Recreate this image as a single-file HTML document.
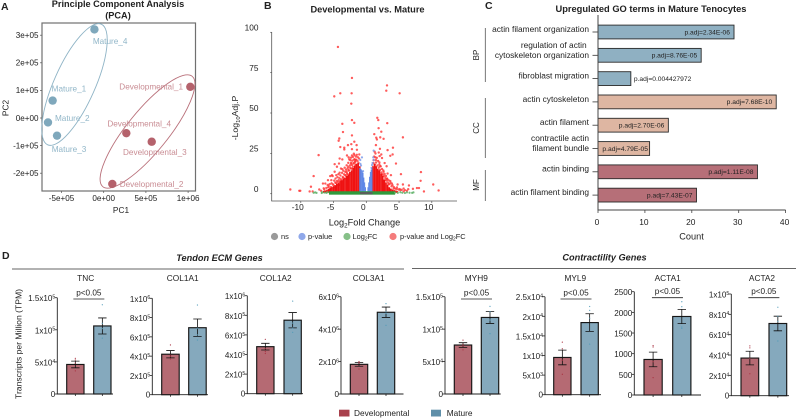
<!DOCTYPE html>
<html lang="en">
<head>
<meta charset="utf-8">
<title>Tenocyte transcriptomics figure</title>
<style>
html,body{margin:0;padding:0;background:#fff;width:797px;height:418px;overflow:hidden}
svg{display:block;font-family:"Liberation Sans",sans-serif;filter:blur(0.25px)}
text{fill:#222}
</style>
</head>
<body>
<svg id="fig" width="797" height="418" viewBox="0 0 797 418" xmlns="http://www.w3.org/2000/svg">
  <!-- panel letters -->
  <text x="1" y="10" font-size="10.5" font-weight="bold">A</text>
  <text x="264" y="9" font-size="10.5" font-weight="bold">B</text>
  <text x="485" y="9" font-size="10.5" font-weight="bold">C</text>
  <text x="2" y="259" font-size="10.5" font-weight="bold">D</text>

  <!-- Panel A static -->
  <text x="118" y="7" font-size="9.2" font-weight="bold" text-anchor="middle">Principle Component Analysis</text>
  <text x="118" y="18.5" font-size="9.2" font-weight="bold" text-anchor="middle">(PCA)</text>
  <rect x="42" y="23" width="153.5" height="168" fill="none" stroke="#707070" stroke-width="1.2"/>
  <text x="121" y="213" font-size="8.3" text-anchor="middle">PC1</text>
  <text transform="translate(8.5,108) rotate(-90)" font-size="8.3" text-anchor="middle">PC2</text>
  <g id="pca"></g>

  <!-- Panel B static -->
  <text x="367.5" y="12.5" font-size="9.25" font-weight="bold" text-anchor="middle">Developmental vs. Mature</text>
  <g id="volcano"></g>
  <text transform="translate(238,118) rotate(-90)" font-size="8.7" text-anchor="middle">-Log<tspan font-size="5.8" dy="2">10</tspan><tspan dy="-2">Adj.P</tspan></text>
  <text x="364.5" y="225.5" font-size="9.2" text-anchor="middle">Log<tspan font-size="6.2" dy="2">2</tspan><tspan dy="-2">Fold Change</tspan></text>
  <g font-size="7.4">
    <circle cx="274.5" cy="236.5" r="3.6" fill="#9a9a9a"/>
    <text x="281" y="239" fill="#444">ns</text>
    <circle cx="302" cy="236.5" r="3.6" fill="#8fa8ea"/>
    <text x="308" y="239" fill="#444">p-value</text>
    <circle cx="347" cy="236.5" r="3.6" fill="#86c088"/>
    <text x="352.5" y="239" fill="#444">Log<tspan font-size="5" dy="1.5">2</tspan><tspan dy="-1.5">FC</tspan></text>
    <circle cx="393" cy="236.5" r="3.6" fill="#f47c7c"/>
    <text x="400" y="239" fill="#444">p-value and Log<tspan font-size="5" dy="1.5">2</tspan><tspan dy="-1.5">FC</tspan></text>
  </g>

  <!-- Panel C static -->
  <text x="651" y="12" font-size="9.3" font-weight="bold" text-anchor="middle">Upregulated GO terms in Mature Tenocytes</text>
  <g id="go"></g>
  <line x1="485.3" x2="485.3" y1="28" y2="82" stroke="#555" stroke-width="0.8"/>
  <line x1="485.3" x2="485.3" y1="98" y2="158" stroke="#555" stroke-width="0.8"/>
  <line x1="485.3" x2="485.3" y1="170" y2="201" stroke="#555" stroke-width="0.8"/>
  <text transform="translate(479,55) rotate(-90)" font-size="8" text-anchor="middle">BP</text>
  <text transform="translate(479,128) rotate(-90)" font-size="8" text-anchor="middle">CC</text>
  <text transform="translate(479,185) rotate(-90)" font-size="8" text-anchor="middle">MF</text>
  <text x="691.5" y="239.5" font-size="9.2" text-anchor="middle">Count</text>

  <!-- Panel D static -->
  <line x1="12" x2="404" y1="269" y2="269" stroke="#666" stroke-width="0.9"/>
  <line x1="412" x2="796" y1="268.5" y2="268.5" stroke="#666" stroke-width="0.9"/>
  <text x="219.5" y="261" font-size="9.2" font-weight="bold" font-style="italic" text-anchor="middle">Tendon ECM Genes</text>
  <text x="604.5" y="260.5" font-size="9.2" font-weight="bold" font-style="italic" text-anchor="middle">Contractility Genes</text>
  <text transform="translate(21.5,344) rotate(-90)" font-size="8.6" text-anchor="middle">Transcripts per Million (TPM)</text>
  <g id="bars"></g>
  <rect x="339" y="409.7" width="10.5" height="6.8" fill="#a8404c"/>
  <text x="354" y="415.8" font-size="8.3">Developmental</text>
  <rect x="431" y="409.7" width="10" height="6.8" fill="#5f8fa9"/>
  <text x="446.7" y="415.8" font-size="8.3">Mature</text>
</svg>

<script>
/* ---------- Panel A: PCA data ---------- */
const pcaNames = ['Mature_1','Mature_2','Mature_3','Mature_4','Developmental_1','Developmental_2','Developmental_3','Developmental_4'];
const pcaPc1 = [-605000,-660000,-553000,-110000,1026000,102000,569000,268000];
const pcaPc2 = [63000,-16000,-64000,321000,113000,-239000,-86000,-55000];
const pcaXTicks = [-500000,0,500000,1000000];
const pcaXTickLabels = ['-5e+05','0e+00','5e+05','1e+06'];
const pcaYTicks = [-200000,-100000,0,100000,200000,300000];
const pcaYTickLabels = ['-2e+05','-1e+05','0e+00','1e+05','2e+05','3e+05'];

/* ---------- Panel B: volcano data (log2 fold change, -log10 adj P) ---------- */
const redLfc = [-4.33,-2.19,3.16,3.05,5.09,-3.97,-2.24,-4.89,-2.29,-2.19,-1.83,-3.66,-3.56,-2.19,-4.12,-4.22,-1.83,-2.8,-2.29,-1.48,-3.97,-3.36,-3.36,-2.19,-1.43,-7.28,-1.07,-2.95,-2.19,-1.83,-2.7,-1.83,-2.44,-4.07,-3.66,-4.83,-4.17,-2.34,-1.63,-4.48,-3.87,-3.66,-2.75,-4.83,-3,-5.24,-5.5,-5.14,-5.85,-5.34,-4.22,-3.77,-6.26,-4.73,-8.04,-6.62,-8.45,-11.6,-10.23,-8.65,-8.19,-7.18,-6.41,-10.08,-5.8,-5.5,-5,-5.75,-4.22,-3.46,-3.21,-2.7,-2.34,-2.04,-1.68,-4.58,-4.07,
 1.68,1.83,3.2,1.88,2.29,1.22,1.52,2.13,5.59,2.64,1.62,1.47,2.08,4.07,3.25,1.27,2.29,3.66,4.02,1.37,2.03,1.12,1.47,2,4.53,2.13,1.37,8.34,3.25,5.29,3.76,8.29,3.66,3.15,4.78,5.59,6.51,10.22,4.68,4.17,5.7,7.12,7.73,8.04,8.8,11.04,6.2,5.19,5.7,3.91,3.4,2.9,2.64,2.39,
 -6.9,-6.5,-6.1,-5.9,-5.6,-5.3,-5.1,-4.9,-4.7,-4.5,-4.4,-4.25,-4.1,-3.95,-3.85,-3.7,-3.6,-3.5,-3.4,-3.3,-3.2,-3.1,-3,-2.95,-2.85,-2.75,-2.65,-2.6,-2.5,-2.45,-2.35,-2.3,-2.2,-2.1,-2.05,-1.95,-1.9,-1.8,-1.7,-1.6,-1.55,-1.45,-1.35,-1.3,-1.2,-1.1,-2.55,-3.15,-3.55,-3.9,-4.3,-4.6,-5,-5.4,-2.85,-2.2,-1.9,-1.65,
 1.1,1.2,1.3,1.4,1.5,1.6,1.7,1.8,1.9,2,2.1,2.2,2.3,2.4,2.5,2.6,2.7,2.8,2.9,3,3.1,3.2,3.3,3.4,3.55,3.7,3.85,4,4.2,4.4,4.6,4.9,5.1,5.4,5.9,6.4,1.9,2.4,2.8,3.1];
const redP = [90.9,71.7,67.1,63.8,62.2,62.2,62.2,60.3,55.8,45.6,43.9,43.3,38.2,36.1,34.2,32.8,32.2,30.1,30.7,30.1,28.9,28.5,27.4,27.6,27.2,23.9,24.3,23.7,23.7,23.9,22.5,21.2,20.8,21.8,21.2,18.3,18.7,18.7,18.1,16.7,15.6,15.2,16.7,13.6,13.6,11.5,10.9,10.9,8.4,8.4,8.4,8,6.3,6.8,10.9,6.3,4.3,2.6,1.8,1.4,1.4,2.6,2.6,1.8,3.9,3.2,3.9,4.7,5.3,9.4,11.5,14.6,15.6,16.7,19.8,11.5,13,
 47,45.6,43.7,40.6,38.4,36.9,34.7,34.9,34.9,34,33.6,30.1,27.8,28.5,27,26,24.3,23.5,24.3,22.5,23.3,20.8,20.8,19.4,18.7,17.1,16.7,13.4,12.5,12.1,11.5,8,7.8,9.4,5.7,5.7,5.1,5.7,3.9,3.2,3.2,3,3.5,3.5,1.4,2,1.8,2.2,1.4,6.3,5.9,8.4,13.6,11.5,
 1.8,3.3,3.6,5.4,5.9,6.4,5.8,8.1,9.4,7.8,10.2,12.1,9.6,11.3,8.9,12.9,10.4,14.2,12,16.1,13.5,14.9,17.6,12.6,15.7,19.1,14.3,21.2,17.5,16,22.3,19.2,17.8,20.5,22.7,18.7,24.8,21.3,19.9,23,21.1,24.1,20.4,22.6,19.2,21.8,11.9,11.2,9.9,7.9,7.2,6.6,5.2,4.1,12,15.5,19,21,
 19,23,18,24.9,19.3,22.2,17.5,20.3,16.2,18.1,14.8,16.9,13.2,15.3,12.1,14.4,10.9,12.2,9.7,11,8.1,9.2,6.9,8.4,5.9,6.8,4.6,5.3,4.1,3.2,2.9,2.6,2.9,2.4,2.2,2.8,25.5,22.1,19,17];
/* densely over-plotted red region, summarised per log2FC bin */
const denseRedLfc = [-6.5,-6.25,-6,-5.75,-5.5,-5.25,-5,-4.75,-4.5,-4.25,-4,-3.75,-3.5,-3.25,-3,-2.75,-2.5,-2.25,-2,-1.75,-1.5,-1.25,-1,1,1.25,1.5,1.75,2,2.25,2.5,2.75,3,3.25,3.5,3.75,4,4.25,4.5,4.75];
const denseRedTop = [1.7,2,2.5,2.9,3.5,4,4.6,5.3,6.2,6.6,7.8,8.2,9.2,10,11,11.8,13.5,14.5,16,17.5,18.5,19,17,17,18.5,17,15.5,14.5,12.5,11,8.8,7,5.6,4,3.2,2.6,2.2,2,1.6];
/* densely over-plotted blue arms, summarised per log2FC bin */
const denseBlueLfc = [-1,-0.875,-0.75,-0.625,-0.5,-0.375,-0.25,-0.125,0,0.125,0.25,0.375,0.5,0.625,0.75,0.875];
const denseBlueTop = [16,15.5,15,14,13,10,7,4,1.5,1.5,4,7,10.5,13.5,15,16];
const blueLfc = [-0.66,-0.92,1.12,1.12,0.87,-0.5,0.8,-0.8,0.95,-0.9,1.05];
const blueP = [22.5,20.9,26.7,20.9,17.8,14,16,17.5,19,18.5,22.5];
const greenLfc = [-8.04,-7.8,-7.6,-6.8,-6.77,-6.4,-6.1,-5.9,4.4,4.8,5.2,5.5,5.9,6.2,6.6,7,7.2];
const greenP = [0.6,0.8,0.5,0.4,0.9,0.7,0.5,0.9,0.7,0.5,0.9,0.6,0.4,0.8,0.6,0.5,0.8];
const greenBandLfc = [-5.7,4.4];
const greenBandP = [-0.6,1.5];
const greyBandLfc = [-0.95,0.95];
const greyBandP = [-0.4,1];
const volcanoXTicks = [-10,-5,0,5,10];
const volcanoYTicks = [0,25,50,75,100];

/* ---------- Panel C: GO terms ---------- */
const goTermLines = [['actin filament organization'],['regulation of actin ','cytoskeleton organization'],['fibroblast migration'],['actin cytoskeleton'],['actin filament'],['contractile actin','filament bundle'],['actin binding'],['actin filament binding']];
const goCounts = [29,22,7,38,15,11,34,21];
const goPadj = ['p.adj=2.34E-06','p.adj=8.76E-05','p.adj=0.004427972','p.adj=7.68E-10','p.adj=2.70E-06','p.adj=4.79E-05','p.adj=1.11E-08','p.adj=7.43E-07'];
const goGroups = ['BP','BP','BP','CC','CC','CC','MF','MF'];
const goXTicks = [0,10,20,30,40];

/* ---------- Panel D: gene bars ---------- */
const geneNames = ['TNC','COL1A1','COL1A2','COL3A1','MYH9','MYL9','ACTA1','ACTA2'];
const geneMax = [150000,1000000,1000000,6000000,150000,25000,2500,100000];
const geneTicks = [[0,50000,100000,150000],[0,200000,400000,600000,800000,1000000],[0,200000,400000,600000,800000,1000000],[0,2000000,4000000,6000000],[0,50000,100000,150000],[0,5000,10000,15000,20000,25000],[0,500,1000,1500,2000,2500],[0,20000,40000,60000,80000,100000]];
const geneTickLabels = [['0','5x10|4','1x10|5','1.5x10|5'],['0','2x10|5','4x10|5','6x10|5','8x10|5','1x10|6'],['0','2x10|5','4x10|5','6x10|5','8x10|5','1x10|6'],['0','2x10|6','4x10|6','6x10|6'],['0','5x10|4','1x10|5','1.5x10|5'],['0','5x10|3','1x10|4','1.5x10|4','2x10|4','2.5x10|4'],['0','500','1000','1500','2000','2500'],['0','2x10|4','4x10|4','6x10|4','8x10|4','1x10|5']];
const devMeans = [46000,420000,480000,1830000,75500,9500,860,37000];
const matureMeans = [106000,695000,750000,5040000,118000,18400,1900,71000];
const devErrors = [5200,38000,34000,120000,3600,1870,177,6700];
const matureErrors = [12500,90000,78000,320000,9200,2250,173,7200];
const devPoints = [[53000,55500,36000,48000],[516000,395000,410000,370000],[554000,410000,460000,430000],[2000000,1540000,1950000,1900000],[83000,68000,76500,74500],[13400,11700,5200,8800],[1161,1194,419,806],[49000,47000,21600,36700]];
const maturePoints = [[139000,102000,87000,110000],[930000,567000,620000,690000],[945000,626000,670000,720000],[5570000,4230000,4970000,5070000],[135000,93000,127000,114000],[22500,21500,12900,19500],[2258,2137,1613,1645],[87000,53800,73000,78000]];
const geneSignificance = ['p<0.05','','','','p<0.05','p<0.05','p<0.05','p<0.05'];

const NS = 'http://www.w3.org/2000/svg';
function mk(tag, attrs, parent){
  const el = document.createElementNS(NS, tag);
  for (const k in attrs) el.setAttribute(k, attrs[k]);
  parent.appendChild(el);
  return el;
}
function clean(s){ return String(s).toLowerCase().replace(/[^a-z0-9]+/g,'-').replace(/^-|-$/g,''); }

/* ---------- Draw A ---------- */
(function(){
  const g = document.getElementById('pca');
  const x = v => 103.7 + v / 500000 * 42.2;
  const y = v => 118 - v / 100000 * 27.6;
  const blueColor = '#7fa8bc', roseColor = '#b5626c';
  const blueText = '#91b6c8', roseText = '#c98d94';
  const labelDx = [-1,7,-5.3,-1.6,-71,7.4,-28.7,-19];
  const labelDy = [-11.7,-4.3,13.3,12,0,0.3,10.6,-9.3];

  const e1 = mk('ellipse',{cx:74.5,cy:84.5,rx:66,ry:20.5,transform:'rotate(-66 74.5 84.5)',fill:'none',stroke:'#8fb4c6','stroke-width':0.9},g);
  
  
  const e2 = mk('ellipse',{cx:147.5,cy:131.5,rx:71,ry:20.5,transform:'rotate(-51 147.5 131.5)',fill:'none',stroke:'#b9707a','stroke-width':0.9},g);
  
  

  pcaXTicks.forEach((v,i)=>{
    const t = mk('line',{x1:x(v),x2:x(v),y1:191,y2:193,stroke:'#555','stroke-width':0.7},g);
    
    
    const l = mk('text',{x:x(v),y:201,'font-size':8.1,'text-anchor':'middle'},g);
    
    
    l.textContent = pcaXTickLabels[i];
  });
  pcaYTicks.forEach((v,i)=>{
    const t = mk('line',{x1:40,x2:42,y1:y(v),y2:y(v),stroke:'#555','stroke-width':0.7},g);
    
    
    const l = mk('text',{x:38.5,y:y(v)+2.8,'font-size':8.1,'text-anchor':'end'},g);
    
    
    l.textContent = pcaYTickLabels[i];
  });
  pcaNames.forEach((n,i)=>{
    const mature = n.indexOf('Mature')===0;
    const c = mk('circle',{cx:x(pcaPc1[i]),cy:y(pcaPc2[i]),r:4.2,fill:mature?blueColor:roseColor},g);
    
    
    const t = mk('text',{x:x(pcaPc1[i])+labelDx[i],y:y(pcaPc2[i])+labelDy[i]+2.8,'font-size':8.2,style:'fill:'+(mature?blueText:roseText)},g);
    
    
    t.textContent = n;
  });
})();

/* ---------- Draw B ---------- */
(function(){
  const g = document.getElementById('volcano');
  const x = v => 366.3 + v * 6.55;
  const y = v => 193.7 - v * 1.614;

  const ya = mk('line',{x1:271.7,x2:271.7,y1:32,y2:201,stroke:'#555','stroke-width':0.8},g);
  
  
  const xa = mk('line',{x1:271.3,x2:457,y1:201,y2:201,stroke:'#555','stroke-width':0.8},g);
  
  

  volcanoYTicks.forEach(v=>{
    const t = mk('line',{x1:270.2,x2:271.7,y1:y(v),y2:y(v),stroke:'#555','stroke-width':0.7},g);
    
    
    const l = mk('text',{x:258.5,y:y(v)-1.9,'font-size':8.3,'text-anchor':'end'},g);
    
    
    l.textContent = v;
  });
  volcanoXTicks.forEach(v=>{
    const t = mk('line',{x1:x(v),x2:x(v),y1:201,y2:203,stroke:'#555','stroke-width':0.7},g);
    
    
    const l = mk('text',{x:x(v)-3,y:210,'font-size':8.3,'text-anchor':'middle'},g);
    
    
    l.textContent = v;
  });

  redLfc.forEach((v,i)=>{
    const c = mk('circle',{cx:x(v),cy:y(redP[i]),r:1.2,fill:'#f33',opacity:0.8},g);
    
    
  });
  denseRedLfc.forEach((v,i)=>{
    const r = mk('rect',{x:x(v)-0.85,width:1.7,y:y(denseRedTop[i]),height:y(0.5)-y(denseRedTop[i]),fill:'#ef1212'},g);
    
    
  });
  blueLfc.forEach((v,i)=>{
    const c = mk('circle',{cx:x(v),cy:y(blueP[i]),r:1.1,fill:'#7d9cea',opacity:0.85},g);
    
    
  });
  denseBlueLfc.forEach((v,i)=>{
    const r = mk('rect',{x:x(v)-0.5,width:1,y:y(denseBlueTop[i]),height:y(0.5)-y(denseBlueTop[i]),fill:'#5f86e6'},g);
    
    
  });
  const gb = mk('rect',{x:x(greenBandLfc[0]),width:x(greenBandLfc[1])-x(greenBandLfc[0]),y:y(greenBandP[1]),height:y(greenBandP[0])-y(greenBandP[1]),fill:'#2f9a3c'},g);
  
  
  greenLfc.forEach((v,i)=>{
    const c = mk('circle',{cx:x(v),cy:y(greenP[i]),r:1.1,fill:'#5fb268',opacity:0.85},g);
    
    
  });
  const gr = mk('rect',{x:x(greyBandLfc[0]),width:x(greyBandLfc[1])-x(greyBandLfc[0]),y:y(greyBandP[1]),height:y(greyBandP[0])-y(greyBandP[1]),fill:'#5c5c5c'},g);
  
  
})();

/* ---------- Draw C ---------- */
(function(){
  const g = document.getElementById('go');
  const x = v => 598 + v * 4.69;
  const rowY = i => 32 + i * 23.3;
  const colors = {BP:'#8fb0c2',CC:'#deb6a2',MF:'#b66f78'};
  goCounts.forEach((v,i)=>{
    const r = mk('rect',{x:x(0),y:rowY(i)-6.9,width:x(v)-x(0),height:13.8,fill:colors[goGroups[i]],stroke:'#2a2a2a','stroke-width':0.9},g);
    
    
    const t = mk('line',{x1:592.5,x2:598,y1:rowY(i),y2:rowY(i),stroke:'#333','stroke-width':0.8},g);
    
    
    const lines = goTermLines[i];
    lines.forEach((s,j)=>{
      const l = mk('text',{x:589,y:rowY(i)+(lines.length===1?-0.1:(j===0?-7.5:2.5)),'font-size':8.35,'text-anchor':'end',style:'white-space:pre'},g);
      
      
      l.textContent = s;
    });
    const outside = v < 10;
    const p = mk('text',{x:outside?x(v)+3:x(v)-(v<12?1.6:4),y:rowY(i)+2.3,'font-size':6.7,'text-anchor':outside?'start':'end'},g);
    
    
    p.textContent = goPadj[i];
  });
  const ya = mk('line',{x1:598,x2:598,y1:15,y2:210,stroke:'#444','stroke-width':1},g);
  
  
  const xa = mk('line',{x1:597.5,x2:x(40),y1:210,y2:210,stroke:'#444','stroke-width':1},g);
  
  
  goXTicks.forEach(v=>{
    const t = mk('line',{x1:x(v),x2:x(v),y1:210,y2:213,stroke:'#444','stroke-width':0.8},g);
    
    
    const l = mk('text',{x:x(v)-1,y:225,'font-size':8.4,'text-anchor':'middle'},g);
    
    
    l.textContent = v;
  });
})();

/* ---------- Draw D ---------- */
(function(){
  const root = document.getElementById('bars');
  /* layout only: axis x, baseline y, y of max tick, bar lefts, axis right end, title x, bracket y */
  const frameAxisX = [57.3,152.3,247.3,341,445,545,634.3,731.3];
  const frameBase = [394,394.7,393.7,394,394,394.7,395,395.7];
  const frameTop = [297.7,298.3,295.7,296.7,296.7,296.7,291.7,294];
  const frameDevLeft = [66.7,161.7,256.7,350.3,454.3,553.7,644,741];
  const frameMatLeft = [93.7,188.7,284,377.3,481.3,581,672.7,769];
  const frameEnd = [113,208,303,403.5,500.7,601,701,789];
  const frameTitleX = [85.7,182.7,275.7,368.7,476.3,575.3,667.7,762];
  const frameBarW = [17.3,17.5,17.3,17.4,17.4,17.3,18.2,17.7];
  const frameBracketY = [299,299,299,299,299,299,297.7,297.7];

  geneNames.forEach((name,i)=>{
    const g = mk('g',{},root);
    
    
    const base = frameBase[i], top = frameTop[i], ax = frameAxisX[i];
    const y = v => base - v / geneMax[i] * (base - top);
    const w = frameBarW[i];

    const title = mk('text',{x:frameTitleX[i],y:281,'font-size':8.3,'text-anchor':'middle'},g);
    
    
    title.textContent = name;

    const ya = mk('line',{x1:ax,x2:ax,y1:top,y2:base,stroke:'#222','stroke-width':0.9},g);
    
    
    const xa = mk('line',{x1:ax-0.4,x2:frameEnd[i],y1:base,y2:base,stroke:'#222','stroke-width':0.9},g);
    
    

    geneTicks[i].forEach((v,j)=>{
      const t = mk('line',{x1:ax-2.5,x2:ax,y1:y(v),y2:y(v),stroke:'#222','stroke-width':0.8},g);
      
      
      const parts = geneTickLabels[i][j].split('|');
      const l = mk('text',{x:ax-2,y:y(v)+2.9+(v===0?0:0.6),'font-size':8.1,'text-anchor':'end'},g);
      
      
      l.textContent = parts[0];
      if (parts[1]) {
        const s = mk('tspan',{'font-size':5.2,dy:-2.6},l);
        s.textContent = parts[1];
      }
    });

    const series = [
      {left:frameDevLeft[i],mean:devMeans[i],err:devErrors[i],pts:devPoints[i],fill:'#b56a73',dot:'#a8303f',n:'developmental'},
      {left:frameMatLeft[i],mean:matureMeans[i],err:matureErrors[i],pts:maturePoints[i],fill:'#85a9bd',dot:'#4f9ab8',n:'mature'}
    ];
    series.forEach(s=>{
      const cx = s.left + w / 2;
      const b = mk('rect',{x:s.left,y:y(s.mean),width:w,height:base-y(s.mean),fill:s.fill,stroke:'#161616','stroke-width':1.15},g);
      
      
      const e = mk('path',{d:'M'+cx+' '+y(s.mean+s.err)+'V'+y(s.mean-s.err)+'M'+(cx-4.2)+' '+y(s.mean+s.err)+'H'+(cx+4.2)+'M'+(cx-4.2)+' '+y(s.mean-s.err)+'H'+(cx+4.2),fill:'none',stroke:'#111','stroke-width':0.8},g);
      
      
      s.pts.forEach(v=>{
        const d = mk('circle',{cx:cx,cy:y(v),r:0.65,fill:s.dot,opacity:0.85},g);
        
        
      });
      const tk = mk('line',{x1:cx,x2:cx,y1:base,y2:base+2,stroke:'#222','stroke-width':0.8},g);
      
      
    });

    if (geneSignificance[i]) {
      const cxA = frameDevLeft[i] + w / 2, cxB = frameMatLeft[i] + w / 2;
      const mid = (cxA + cxB) / 2;
      const br = mk('line',{x1:mid-15.5,x2:mid+15.5,y1:frameBracketY[i],y2:frameBracketY[i],stroke:'#222','stroke-width':0.8},g);
      
      
      const p = mk('text',{x:mid,y:frameBracketY[i]-3.5,'font-size':8.2,'text-anchor':'middle'},g);
      
      
      p.textContent = geneSignificance[i];
    }
  });
})();
</script>
</body>
</html>
